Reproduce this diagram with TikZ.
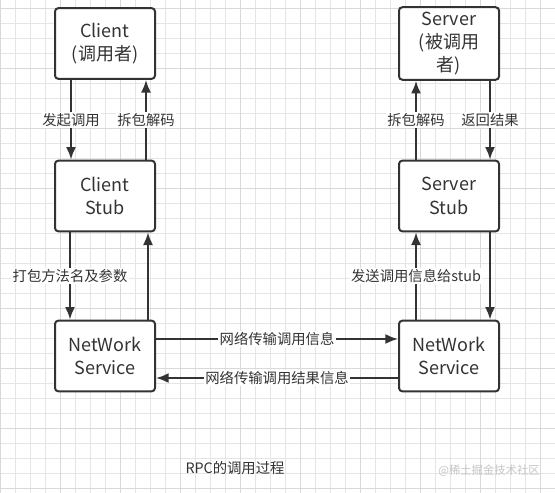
\documentclass[tikz,border=0pt]{standalone}
\usepackage{fontspec}
\setmainfont{Noto Sans CJK SC}
\usepackage{xcolor}
\usepackage{tikz}
\usetikzlibrary{calc, shapes, backgrounds, arrows, arrows.meta, positioning}
\definecolor{ciemny}{HTML}{333333}

\begin{document}
\begin{tikzpicture}[x=0.75pt, y=-0.75pt,
  blok/.style={draw=ciemny, line width=1.5pt, rounded corners=2.5pt, fill=white, text=ciemny,
    minimum width=75pt, minimum height=53pt, align=center, font=\fontsize{13.5}{17.5}\selectfont},
  strz/.style={draw=ciemny, line width=1.5pt, -{Latex[length=9.5pt,width=7.5pt]}},
  opis/.style={fill=white, text=ciemny, inner sep=1pt, font=\fontsize{10.75}{12}\selectfont}]
\useasboundingbox (0,0) rectangle (555,492);
\fill[white] (0,0) rectangle (555,492);
\begin{scope}[shift={(0,8)}]
\draw[gray!20, line width=0.6pt, step=11.25pt] (0,-15) grid (555,492);
\draw[gray!30, line width=0.6pt, step=45pt] (0,-15) grid (555,492);
\end{scope}

\node[blok](klient) at (105,43.5){Client\\(调用者)};
\node[blok](kstub) at (105,196){Client\\Stub};
\node[blok](ksiec) at (105,356){NetWork\\Service};
\node[blok](serwer) at (449,43.5){Server\\(被调用\\者)};
\node[blok](sstub) at (449,196){Server\\Stub};
\node[blok](ssiec) at (449,356){NetWork\\Service};

\path[strz]([xshift=-25.5pt]klient.south) -- node[opis, midway] {发起调用} ([xshift=-25.5pt]kstub.north);
\path[strz]([xshift=30.75pt]kstub.north) -- node[opis, midway] {拆包解码} ([xshift=30.75pt]klient.south);
\path[strz]([xshift=-26.25pt]kstub.south) -- node[opis, midway] {打包方法名及参数} ([xshift=-26.25pt]ksiec.north);
\path[strz]([xshift=32.25pt]ksiec.north) -- ([xshift=32.25pt]kstub.south);

\path[strz]([xshift=-24.75pt]sstub.north) -- node[opis, midway] {拆包解码} ([xshift=-24.75pt]serwer.south);
\path[strz]([xshift=30.75pt]serwer.south) -- node[opis, midway] {返回结果} ([xshift=30.75pt]sstub.north);
\path[strz]([xshift=-24.75pt]ssiec.north) -- node[opis, midway] {发送调用信息给stub} ([xshift=-24.75pt]sstub.south);
\path[strz]([xshift=30.75pt]sstub.south) -- ([xshift=30.75pt]ssiec.north);

\path[strz]([yshift=12.75pt]ksiec.east) -- node[opis, midway] {网络传输调用信息} ([yshift=12.75pt]ssiec.west);
\path[strz]([yshift=-16.5pt]ssiec.west) -- node[opis, midway] {网络传输调用结果信息} ([yshift=-16.5pt]ksiec.east);

\node[text=ciemny, font=\fontsize{10.75}{12}\selectfont](podpis) at (235,468){RPC的调用过程};
\node[text=gray!45, font=\fontsize{8.5}{10}\selectfont](znak) at (489,471){@稀土掘金技术社区};
\end{tikzpicture}
\end{document}
